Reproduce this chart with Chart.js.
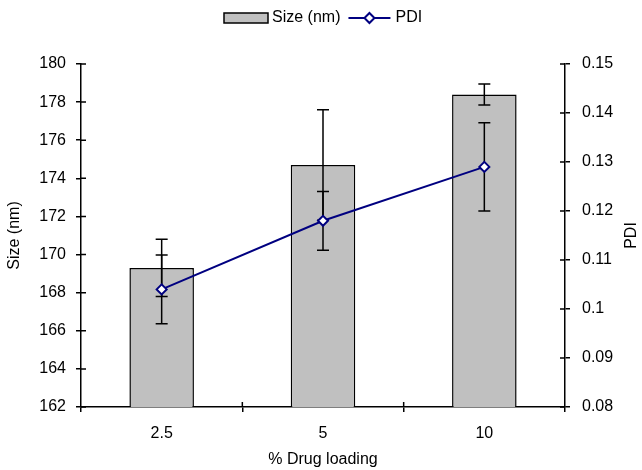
<!DOCTYPE html>
<html>
<head>
<meta charset="utf-8">
<script src="https://cdn.jsdelivr.net/npm/chart.js@4"></script>
<style>
  html, body { margin: 0; padding: 0; background: #fff; }
  #wrap { width: 642px; height: 470px; }
</style>
</head>
<body>
<div id="wrap"><canvas id="drugChart" width="642" height="470"></canvas></div>
<script>
const categories = ["2.5", "5", "10"];
const sizeValues = [169.3, 174.7, 178.4];
const sizeErrors = [1.5, 2.9, 0.55];
const pdiValues = [0.104, 0.118, 0.129];
const pdiErrors = [0.007, 0.006, 0.009];
const sizeTicks = [162, 164, 166, 168, 170, 172, 174, 176, 178, 180];
const pdiTicks = [0.08, 0.09, 0.1, 0.11, 0.12, 0.13, 0.14, 0.15];

const FONT = "'Liberation Sans', Arial, sans-serif";
const FS = 16;
const NAVY = "#000080";

document.addEventListener("DOMContentLoaded", function () {
    const ctx = document.getElementById("drugChart").getContext("2d");

    // error bars drawn right after the bars, so the PDI line sits on top
    const errorBars = {
        id: "errorBars",
        afterDatasetDraw(chart, args) {
            if (args.index !== 0) return;
            const c = chart.ctx;
            const x = chart.scales.x;
            const ySize = chart.scales.y;
            const yPdi = chart.scales.y1;
            c.save();
            c.strokeStyle = "#000";
            c.lineWidth = 1.5;
            const draw = (px, lo, hi) => {
                c.beginPath();
                c.moveTo(px, lo); c.lineTo(px, hi);
                c.moveTo(px - 6, lo); c.lineTo(px + 6, lo);
                c.moveTo(px - 6, hi); c.lineTo(px + 6, hi);
                c.stroke();
            };
            categories.forEach((cat, i) => {
                const px = x.getPixelForValue(i);
                draw(px, ySize.getPixelForValue(sizeValues[i] - sizeErrors[i]),
                         ySize.getPixelForValue(sizeValues[i] + sizeErrors[i]));
                draw(px, yPdi.getPixelForValue(pdiValues[i] - pdiErrors[i]),
                         yPdi.getPixelForValue(pdiValues[i] + pdiErrors[i]));
            });
            c.restore();
        }
    };

    // tick marks that cross the axis lines, right axis title and legend
    const extras = {
        id: "extras",
        afterDraw(chart) {
            const c = chart.ctx;
            const a = chart.chartArea;
            c.save();
            c.strokeStyle = "#000";
            c.lineWidth = 1.5;
            c.beginPath();
            chart.scales.y.ticks.forEach(t => {
                const py = chart.scales.y.getPixelForValue(t.value);
                c.moveTo(a.left, py); c.lineTo(a.left + 5, py);
            });
            chart.scales.y1.ticks.forEach(t => {
                const py = chart.scales.y1.getPixelForValue(t.value);
                c.moveTo(a.right, py); c.lineTo(a.right - 5, py);
            });
            for (let i = 1; i < categories.length; i++) {
                const px = (chart.scales.x.getPixelForValue(i - 1) + chart.scales.x.getPixelForValue(i)) / 2;
                c.moveTo(px, a.bottom); c.lineTo(px, a.bottom - 5);
            }
            c.stroke();

            c.fillStyle = "#000";
            c.font = FS + "px " + FONT;
            c.textAlign = "center";
            c.textBaseline = "middle";
            c.translate(632, (a.top + a.bottom) / 2);
            c.rotate(-Math.PI / 2);
            c.fillText("PDI", 0, 0);
            c.setTransform(1, 0, 0, 1, 0, 0);

            // legend
            const ly = 18;
            c.textAlign = "left";
            const w1 = c.measureText("Size (nm)").width;
            let lx = 224;
            c.fillStyle = "#C0C0C0";
            c.fillRect(lx, ly - 5, 44, 10);
            c.lineWidth = 1.5;
            c.strokeRect(lx, ly - 5, 44, 10);
            lx += 48;
            c.fillStyle = "#000";
            c.fillText("Size (nm)", lx, ly);
            lx += w1 + 8;
            c.strokeStyle = NAVY;
            c.lineWidth = 2;
            c.beginPath();
            c.moveTo(lx, ly); c.lineTo(lx + 42, ly);
            c.stroke();
            const mx = lx + 21;
            c.fillStyle = "#fff";
            c.beginPath();
            c.moveTo(mx, ly - 5); c.lineTo(mx + 5, ly); c.lineTo(mx, ly + 5); c.lineTo(mx - 5, ly);
            c.closePath();
            c.fill(); c.stroke();
            lx += 47;
            c.fillStyle = "#000";
            c.fillText("PDI", lx, ly);
            c.restore();
        }
    };

    new Chart(ctx, {
        data: {
            labels: categories,
            datasets: [{
                type: "bar",
                label: "Size (nm)",
                data: sizeValues,
                yAxisID: "y",
                backgroundColor: "#C0C0C0",
                borderColor: "#000",
                borderWidth: 1.5,
                barPercentage: 1,
                categoryPercentage: 0.4,
                order: 2
            }, {
                type: "line",
                label: "PDI",
                data: pdiValues,
                yAxisID: "y1",
                borderColor: NAVY,
                borderWidth: 2,
                pointStyle: "rectRot",
                pointRadius: 5,
                pointBackgroundColor: "#fff",
                pointBorderColor: NAVY,
                pointBorderWidth: 2,
                order: 1
            }]
        },
        options: {
            responsive: false,
            animation: false,
            devicePixelRatio: 1,
            layout: { padding: { top: 64, left: 0, right: 0, bottom: 0 } },
            plugins: {
                legend: { display: false },
                tooltip: { enabled: false }
            },
            scales: {
                x: {
                    offset: true,
                    grid: { offset: true, drawOnChartArea: false, tickLength: 5, color: "#000", lineWidth: 1.5 },
                    border: { color: "#000", width: 1.5 },
                    ticks: { color: "#000", font: { family: FONT, size: FS }, padding: 12 },
                    title: { display: true, text: "% Drug loading", color: "#000", font: { family: FONT, size: FS }, padding: { top: 0, bottom: 1 } },
                    afterFit(scale) { scale.height = 63; }
                },
                y: {
                    position: "left",
                    min: sizeTicks[0],
                    max: sizeTicks[sizeTicks.length - 1],
                    afterBuildTicks(scale) { scale.ticks = sizeTicks.map(v => ({ value: v })); },
                    grid: { drawOnChartArea: false, tickLength: 5, color: "#000", lineWidth: 1.5 },
                    border: { color: "#000", width: 1.5 },
                    ticks: { color: "#000", font: { family: FONT, size: FS }, padding: 10 },
                    title: { display: true, text: "Size (nm)", color: "#000", font: { family: FONT, size: FS }, padding: { top: 5, bottom: 0 } },
                    afterFit(scale) { scale.width = 81; }
                },
                y1: {
                    position: "right",
                    min: pdiTicks[0],
                    max: pdiTicks[pdiTicks.length - 1],
                    afterBuildTicks(scale) { scale.ticks = pdiTicks.map(v => ({ value: v })); },
                    grid: { drawOnChartArea: false, tickLength: 5, color: "#000", lineWidth: 1.5 },
                    border: { color: "#000", width: 1.5 },
                    ticks: { color: "#000", font: { family: FONT, size: FS }, padding: 12,
                             callback: v => String(Number(v.toFixed(2))) },
                    afterFit(scale) { scale.width = 77; }
                }
            }
        },
        plugins: [errorBars, extras]
    });
});
</script>
</body>
</html>
